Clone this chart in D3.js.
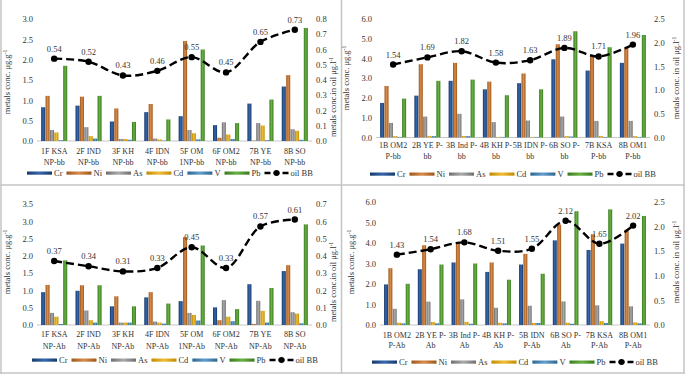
<!DOCTYPE html>
<html><head><meta charset="utf-8">
<script src="https://cdn.jsdelivr.net/npm/d3@7/dist/d3.min.js"></script>
<style>
body{margin:0;background:#fff;}
svg{opacity:0.999;}
svg text{font-family:"Liberation Serif","Times New Roman",serif;fill:#333;}
</style></head>
<body>
<svg id="c" width="685" height="375"></svg>
<script>
// ---------- DATA ----------
const metals = ["Cr","Ni","As","Cd","V","Pb"];

const cats1 = [["1F KSA","NP-bb"],["2F IND","NP-bb"],["3F KH","NP-bb"],["4F IDN","NP-bb"],["5F OM","1NP-bb"],["6F OM2","NP-bb"],["7B YE","NP-bb"],["8B SO","NP-bb"]];
const cr1 = [0.83,0.87,0.48,0.71,0.61,0.39,0.92,1.34];
const ni1 = [1.11,1.09,0.80,0.91,2.46,0.08,0.01,1.62];
const as1 = [0.27,0.34,0.05,0.06,0.27,0.46,0.44,0.29];
const cd1 = [0.21,0.12,0.05,0.04,0.19,0.16,0.38,0.25];
const v1  = [0.02,0.06,0.03,0.01,0.04,0.05,0.02,0.03];
const pb1 = [1.85,1.11,0.47,0.53,2.25,0.44,1.02,2.78];
const oil1 = [0.54,0.52,0.43,0.46,0.55,0.45,0.65,0.73];

const cats2 = [["1B OM2","P-bb"],["2B YE P-","bb"],["3B Ind P-","bb"],["4B KH P-","bb"],["5B IDN P-","bb"],["6B SO P-","bb"],["7B KSA","P-bb"],["8B OM1","P-bb"]];
const cr2 = [1.75,2.12,2.87,2.44,2.75,3.96,3.39,3.78];
const ni2 = [2.61,3.71,3.78,2.83,3.24,4.72,4.11,4.53];
const as2 = [0.74,1.06,1.20,0.78,0.86,1.06,0.84,0.84];
const cd2 = [0.07,0.08,0.08,0.03,0.03,0.07,0.08,0.07];
const v2  = [0.03,0.07,0.07,0.03,0.03,0.05,0.03,0.03];
const pb2 = [1.97,2.87,2.93,2.14,2.44,5.38,4.57,5.19];
const oil2 = [1.54,1.69,1.82,1.58,1.63,1.89,1.71,1.96];

const cats3 = [["1F KSA","NP-Ab"],["2F IND","NP-Ab"],["3F KH","NP-Ab"],["4F IDN","NP-Ab"],["5F OM","1NP-Ab"],["6F OM2","NP-Ab"],["7B YE","NP-Ab"],["8B SO","NP-Ab"]];
const cr3 = [0.95,0.99,0.54,0.80,0.69,0.51,1.18,1.56];
const ni3 = [1.16,1.15,0.83,0.95,2.54,0.14,0.03,1.73];
const as3 = [0.35,0.42,0.07,0.10,0.35,0.72,0.70,0.37];
const cd3 = [0.24,0.14,0.07,0.07,0.29,0.24,0.41,0.33];
const v3  = [0.03,0.07,0.07,0.04,0.13,0.11,0.07,0.05];
const pb3 = [1.87,1.15,0.54,0.62,2.30,0.46,1.07,2.91];
const oil3 = [0.37,0.34,0.31,0.33,0.45,0.33,0.57,0.61];

const cats4 = [["1B OM2","P-Ab"],["2B YE P-","Ab"],["3B Ind P-","Ab"],["4B KH P-","Ab"],["5B IDN","P-Ab"],["6B SO P-","Ab"],["7B KSA","P-Ab"],["8B OM1","P-Ab"]];
const cr4 = [1.98,2.72,3.05,2.59,2.95,4.13,3.66,3.97];
const ni4 = [2.77,3.89,4.02,3.05,3.47,4.90,4.43,4.65];
const as4 = [0.79,1.14,1.25,0.84,0.94,1.15,0.96,0.91];
const cd4 = [0.11,0.15,0.15,0.11,0.10,0.11,0.19,0.13];
const v4  = [0.08,0.08,0.06,0.08,0.10,0.06,0.10,0.08];
const pb4 = [2.01,2.95,3.00,2.21,2.50,5.55,5.64,5.32];
const oil4 = [1.43,1.54,1.68,1.51,1.55,2.12,1.65,2.02];

const leftTicks1 = [0,0.5,1,1.5,2,2.5,3];
const rightTicks1 = [0,0.1,0.2,0.3,0.4,0.5,0.6,0.7,0.8];
const leftTicks2 = [0,1,2,3,4,5,6];
const rightTicks2 = [0,0.5,1,1.5,2,2.5];
const leftTicks3 = [0,0.5,1,1.5,2,2.5,3,3.5];
const rightTicks3 = [0,0.1,0.2,0.3,0.4,0.5,0.6,0.7];
const leftTicks4 = [0,1,2,3,4,5,6];
const rightTicks4 = [0,0.5,1,1.5,2,2.5];

// ---------- STYLE ----------
const colors = {
  Cr:["#173a6b","#3567ad"], Ni:["#9c561c","#d98c48"], As:["#6e6e6e","#ababab"],
  Cd:["#bf8c00","#f0bd35"], V:["#2d6590","#629fcf"], Pb:["#3b7a21","#68b242"]
};
const FS = "8.5px";
const FSC = "8px";

const svg = d3.select("#c");
const defs = svg.append("defs");
metals.forEach(m=>{
  const g = defs.append("linearGradient").attr("id","g"+m).attr("x1","0").attr("x2","1").attr("y1","0").attr("y2","0");
  g.append("stop").attr("offset","0%").attr("stop-color",colors[m][0]);
  g.append("stop").attr("offset","50%").attr("stop-color",colors[m][1]);
  g.append("stop").attr("offset","100%").attr("stop-color",colors[m][0]);
});

const frame = svg.append("g").attr("stroke","#c4c4c4").attr("stroke-width",1.5).attr("fill","none");
frame.append("line").attr("x1",1).attr("x2",1).attr("y1",0).attr("y2",374);
frame.append("line").attr("x1",684).attr("x2",684).attr("y1",0).attr("y2",374);
frame.append("line").attr("x1",341.5).attr("x2",341.5).attr("y1",0).attr("y2",374);
frame.append("line").attr("x1",0).attr("x2",685).attr("y1",185).attr("y2",185);
frame.append("line").attr("x1",0).attr("x2",685).attr("y1",373).attr("y2",373);

function panel(cfg){
  const {cats, series, oil, lt, rt, x0, x1, y0, y1, labY, legX, legY, leftTitleX, rightTitleX, rightTitle, titleY} = cfg;
  const g = svg.append("g");
  const xb = d3.scaleBand().domain(d3.range(cats.length)).range([x0,x1]).paddingInner(0.22).paddingOuter(0.11);
  const xi = d3.scaleBand().domain(metals).range([0,xb.bandwidth()]).padding(0.08);
  const yl = d3.scaleLinear().domain([0,lt[lt.length-1]]).range([y0,y1]);
  const yr = d3.scaleLinear().domain([0,rt[rt.length-1]]).range([y0,y1]);

  g.append("line").attr("x1",x0).attr("x2",x1).attr("y1",y0).attr("y2",y0).attr("stroke","#c8c8c8").attr("stroke-width",1);

  const la = g.append("g").attr("transform",`translate(${x0-4},0)`)
    .call(d3.axisLeft(yl).tickValues(lt).tickFormat(d3.format(".1f")).tickSize(0).tickPadding(0));
  la.select(".domain").remove();
  la.selectAll("text").style("font-size",FS).style("font-family","Liberation Serif").attr("fill","#333");
  const ra = g.append("g").attr("transform",`translate(${x1+4},0)`)
    .call(d3.axisRight(yr).tickValues(rt).tickFormat(d3.format(".1f")).tickSize(0).tickPadding(0));
  ra.select(".domain").remove();
  ra.selectAll("text").style("font-size",FS).style("font-family","Liberation Serif").attr("fill","#333");

  const lt_ = g.append("text").attr("transform",`translate(${leftTitleX},${titleY[0]}) rotate(-90)`)
    .attr("text-anchor","middle").style("font-size",FS);
  lt_.append("tspan").text("metals conc. μg.g");
  lt_.append("tspan").attr("dy",-3).style("font-size","5.5px").text("-1");
  const rt_ = g.append("text").attr("transform",`translate(${rightTitleX},${titleY[1]}) rotate(-90)`)
    .attr("text-anchor","middle").style("font-size",FS);
  rt_.append("tspan").text(rightTitle);
  rt_.append("tspan").attr("dy",-3).style("font-size","5.5px").text("-1");

  const grp = g.selectAll("g.grp").data(cats.map((c,i)=>i)).join("g").attr("class","grp")
    .attr("transform",i=>`translate(${xb(i)},0)`);
  grp.selectAll("rect").data(i=>metals.map((m,k)=>({m, v:series[k][i]}))).join("rect")
    .attr("x",d=>xi(d.m)).attr("width",xi.bandwidth())
    .attr("y",d=>yl(d.v)).attr("height",d=>y0-yl(d.v))
    .attr("fill",d=>`url(#g${d.m})`);

  const cl = g.selectAll("text.cat").data(cats).join("text").attr("class","cat")
    .attr("text-anchor","middle").style("font-size",FSC)
    .attr("x",(d,i)=>xb(i)+xb.bandwidth()/2).attr("y",labY[0]);
  cl.append("tspan").text(d=>d[0]);
  cl.append("tspan").attr("x",(d,i)=>xb(i)+xb.bandwidth()/2).attr("y",labY[1]).text(d=>d[1]);

  const cx = i=>xb(i)+xb.bandwidth()/2;
  const line = d3.line().x((d,i)=>cx(i)).y(d=>yr(d)).curve(d3.curveCatmullRom.alpha(0.5));
  g.append("path").datum(oil).attr("d",line).attr("fill","none").attr("stroke","#000")
    .attr("stroke-width",2.4).attr("stroke-dasharray","8,4");
  g.selectAll("circle.pt").data(oil).join("circle").attr("class","pt")
    .attr("cx",(d,i)=>cx(i)).attr("cy",d=>yr(d)).attr("r",3.2).attr("fill","#000");
  g.selectAll("text.lbl").data(oil).join("text").attr("class","lbl")
    .attr("text-anchor","middle").style("font-size",FS)
    .attr("x",(d,i)=>cx(i)).attr("y",d=>yr(d)-7).text(d=>d3.format(".2f")(d));

  const lg = g.append("g").attr("transform",`translate(${legX},${legY})`);
  let xx = 0;
  metals.forEach(m=>{
    lg.append("rect").attr("x",xx).attr("y",-1.5).attr("width",25).attr("height",3.2).attr("fill",`url(#g${m})`);
    const t = lg.append("text").attr("x",xx+27).attr("y",3).style("font-size",FS).text(m);
    xx += 27 + t.node().getComputedTextLength() + 4;
  });
  lg.append("line").attr("x1",xx).attr("x2",xx+24).attr("y1",0).attr("y2",0)
    .attr("stroke","#000").attr("stroke-width",2.3).attr("stroke-dasharray","6,3");
  lg.append("circle").attr("cx",xx+12).attr("cy",0).attr("r",3).attr("fill","#000");
  lg.append("text").attr("x",xx+26).attr("y",3).style("font-size",FS).text("oil BB");
}

panel({cats:cats1, series:[cr1,ni1,as1,cd1,v1,pb1], oil:oil1, lt:leftTicks1, rt:rightTicks1,
  x0:37, x1:312, y0:141, y1:19, labY:[154,165], legX:27, legY:173,
  leftTitleX:10, rightTitleX:336, rightTitle:"metals conc.in oil μg.l", titleY:[82,97]});
panel({cats:cats2, series:[cr2,ni2,as2,cd2,v2,pb2], oil:oil2, lt:leftTicks2, rt:rightTicks2,
  x0:376, x1:650, y0:137.5, y1:19, labY:[148,159], legX:370, legY:174,
  leftTitleX:349, rightTitleX:679, rightTitle:"metals conc. in oil μg.l", titleY:[78,78]});
panel({cats:cats3, series:[cr3,ni3,as3,cd3,v3,pb3], oil:oil3, lt:leftTicks3, rt:rightTicks3,
  x0:37, x1:312, y0:325, y1:204, labY:[337,349], legX:32, legY:360,
  leftTitleX:10, rightTitleX:336, rightTitle:"metals conc.in oil μg.l", titleY:[262,282]});
panel({cats:cats4, series:[cr4,ni4,as4,cd4,v4,pb4], oil:oil4, lt:leftTicks4, rt:rightTicks4,
  x0:380, x1:650, y0:325, y1:202, labY:[338,348], legX:372, legY:362,
  leftTitleX:354, rightTitleX:679, rightTitle:"metals conc. in oil μg.l", titleY:[262,262]});
</script>
</body></html>
